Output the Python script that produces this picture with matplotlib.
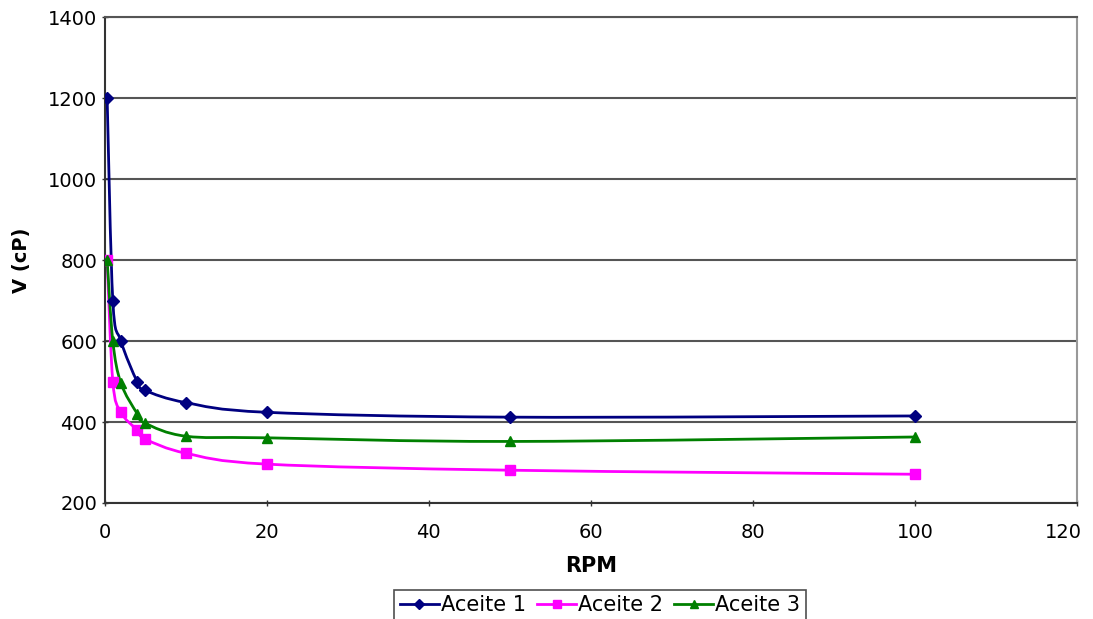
import matplotlib
matplotlib.use('Agg')
import matplotlib.pyplot as plt
import matplotlib.transforms as mtransforms
from matplotlib.path import Path
from matplotlib.patches import PathPatch
from matplotlib.lines import Line2D

# ── data ──
rpm_1 = [0.3, 1, 2, 4, 5, 10, 20, 50, 100]
visc_1 = [1200, 700, 600, 500, 478, 448, 424, 412, 415]

rpm_2 = [0.3, 1, 2, 4, 5, 10, 20, 50, 100]
visc_2 = [800, 500, 424, 380, 358, 323, 296, 281, 271]

rpm_3 = [0.3, 1, 2, 4, 5, 10, 20, 50, 100]
visc_3 = [800, 600, 496, 421, 397, 365, 361, 352, 363]

series = [
    ('Aceite 1', rpm_1, visc_1, '#000080', 'D', 6),
    ('Aceite 2', rpm_2, visc_2, '#FF00FF', 's', 7.5),
    ('Aceite 3', rpm_3, visc_3, '#008000', '^', 6.5),
]


def smooth_path(x, y):
    """Excel-style smoothed line: cubic Bezier segments through the points."""
    pts = list(zip(x, y))
    verts = [pts[0]]
    codes = [Path.MOVETO]
    n = len(pts)
    for i in range(n - 1):
        p0 = pts[max(i - 1, 0)]
        p1 = pts[i]
        p2 = pts[i + 1]
        p3 = pts[min(i + 2, n - 1)]
        c1 = (p1[0] + (p2[0] - p0[0]) / 6, p1[1] + (p2[1] - p0[1]) / 6)
        c2 = (p2[0] - (p3[0] - p1[0]) / 6, p2[1] - (p3[1] - p1[1]) / 6)
        verts += [c1, c2, p2]
        codes += [Path.CURVE4] * 3
    return Path(verts, codes)


plt.rcParams['font.family'] = ['DejaVu Sans']

fig = plt.figure(figsize=(10.93, 6.19), dpi=100)
ax = fig.add_axes([0.0958, 0.1874, 0.8896, 0.785])

handles = []
for name, x, y, col, mk, ms in series:
    ax.add_patch(PathPatch(smooth_path(x, y), facecolor='none', edgecolor=col,
                           linewidth=2, zorder=3))
    ax.plot(x, y, linestyle='none', marker=mk, markersize=ms,
            markerfacecolor=col, markeredgecolor=col, zorder=4)
    handles.append(Line2D([0], [0], color=col, linewidth=2, marker=mk,
                          markersize=ms * 0.8, markerfacecolor=col,
                          markeredgecolor=col, label=name))

ax.set_xlim(0, 120)
ax.set_ylim(200, 1400)
ax.set_xticks(range(0, 121, 20))
ax.set_yticks(range(200, 1401, 200))
ax.tick_params(axis='both', labelsize=14, length=5, width=1, color='#333333',
               direction='inout')
ax.tick_params(axis='x', pad=12)
ax.tick_params(axis='y', pad=3)

# keep the last x tick label inside the figure
last = ax.get_xticklabels()[-1]
last.set_transform(last.get_transform() +
                   mtransforms.ScaledTranslation(-0.14, 0, fig.dpi_scale_trans))

ax.yaxis.grid(True, color='#555555', linewidth=1.5, zorder=1)
ax.set_axisbelow(True)

for side in ['left', 'bottom']:
    ax.spines[side].set_color('#333333')
    ax.spines[side].set_linewidth(1.5)
ax.spines['right'].set_color('#999999')
ax.spines['right'].set_linewidth(1.5)
ax.spines['top'].set_color('#555555')
ax.spines['top'].set_linewidth(1.5)

ax.set_xlabel('RPM', fontsize=15, fontweight='bold', labelpad=10)
ax.set_ylabel('V (cP)', fontsize=14, fontweight='bold', labelpad=12)

leg = fig.legend(handles=handles, loc='upper center',
                 bbox_to_anchor=(0.549, 0.047), ncol=3, borderaxespad=0,
                 fontsize=15, frameon=True, fancybox=False, edgecolor='#222222',
                 handlelength=1.9, handletextpad=0.1, columnspacing=0.5,
                 borderpad=0.25)
leg.get_frame().set_linewidth(1.2)

fig.savefig('out.png', dpi=100, facecolor='white')
